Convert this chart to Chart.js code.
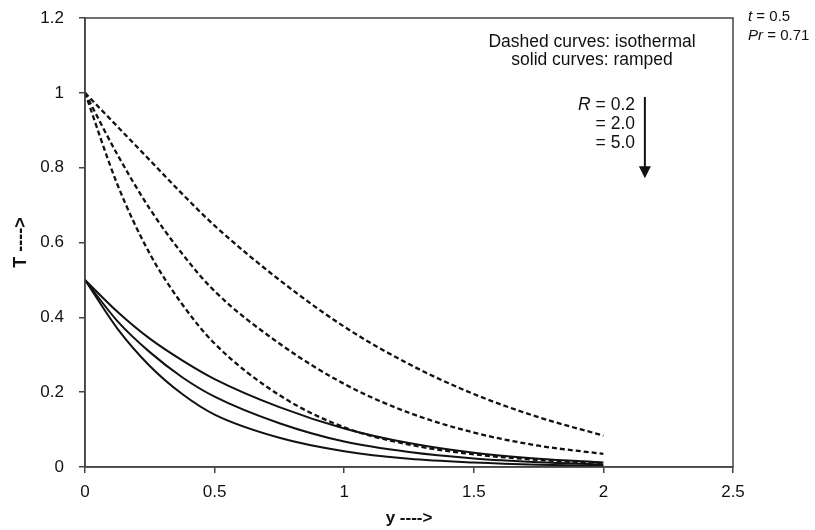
<!DOCTYPE html>
<html>
<head>
<meta charset="utf-8">
<script src="https://cdn.jsdelivr.net/npm/chart.js@4"></script>
<style>
  html, body { margin: 0; padding: 0; background: #fff; }
  #wrap { width: 815px; height: 530px; }
</style>
</head>
<body>
<div id="wrap"><canvas id="tempChart" width="815" height="530"></canvas></div>
<script>
'use strict';
// ─────────────────────────────────────────────
//  DATA
// ─────────────────────────────────────────────

const Y_POS = [0, 0.125, 0.25, 0.375, 0.5, 0.75, 1, 1.25, 1.5, 1.75, 2];

// isothermal plate (dashed), R = 0.2, 2.0, 5.0
const ISO_R02 = [1, 0.91, 0.82, 0.73, 0.645, 0.5, 0.375, 0.275, 0.195, 0.133, 0.084];
const ISO_R20 = [1, 0.835, 0.69, 0.57, 0.47, 0.33, 0.222, 0.145, 0.092, 0.057, 0.035];
const ISO_R50 = [1, 0.755, 0.57, 0.435, 0.33, 0.192, 0.106, 0.06, 0.034, 0.019, 0.011];

// ramped plate (solid), R = 0.2, 2.0, 5.0
const RAMP_R02 = [0.5, 0.415, 0.343, 0.285, 0.235, 0.16, 0.103, 0.064, 0.038, 0.022, 0.012];
const RAMP_R20 = [0.5, 0.39, 0.307, 0.24, 0.188, 0.117, 0.068, 0.04, 0.023, 0.013, 0.007];
const RAMP_R50 = [0.5, 0.37, 0.27, 0.195, 0.14, 0.078, 0.042, 0.022, 0.012, 0.006, 0.003];

const X_TICKS = [0, 0.5, 1, 1.5, 2, 2.5];
const Y_TICKS = [0, 0.2, 0.4, 0.6, 0.8, 1, 1.2];

const FONT = '"Liberation Sans", Arial, sans-serif';
const INK = '#111';
const TXT = 17.5;

function toPoints(values) {
  return values.map((v, i) => ({ x: Y_POS[i], y: v }));
}

function curve(values, dashed) {
  return {
    data: toPoints(values),
    borderColor: INK,
    backgroundColor: 'transparent',
    borderWidth: dashed ? 2.3 : 2,
    borderDash: dashed ? [5, 3] : [],
    pointRadius: 0,
    showLine: true,
    cubicInterpolationMode: 'monotone',
  };
}

// frame round the plot area + the text notes
const framePlugin = {
  id: 'frame',
  afterDraw(chart) {
    const { ctx, chartArea: a, scales: { x, y } } = chart;
    ctx.save();
    ctx.strokeStyle = '#444';
    ctx.lineWidth = 1.5;
    ctx.strokeRect(a.left, a.top, a.right - a.left, a.bottom - a.top);

    ctx.fillStyle = INK;
    ctx.textBaseline = 'middle';
    ctx.font = `${TXT}px ${FONT}`;
    ctx.textAlign = 'center';
    ctx.fillText('Dashed curves: isothermal', x.getPixelForValue(1.956), y.getPixelForValue(1.136));
    ctx.fillText('solid curves: ramped', x.getPixelForValue(1.956), y.getPixelForValue(1.088));

    // R labels, right aligned, "R" in italics
    const rx = x.getPixelForValue(2.122);
    ctx.textAlign = 'right';
    ctx.fillText(' = 0.2', rx, y.getPixelForValue(0.967));
    const w = ctx.measureText(' = 0.2').width;
    ctx.font = `italic ${TXT}px ${FONT}`;
    ctx.fillText('R', rx - w, y.getPixelForValue(0.967));
    ctx.font = `${TXT}px ${FONT}`;
    ctx.fillText('= 2.0', rx, y.getPixelForValue(0.917));
    ctx.fillText('= 5.0', rx, y.getPixelForValue(0.866));

    // arrow
    const ax = x.getPixelForValue(2.16);
    const ay0 = y.getPixelForValue(0.989);
    const ay1 = y.getPixelForValue(0.772);
    ctx.strokeStyle = INK;
    ctx.lineWidth = 2;
    ctx.beginPath();
    ctx.moveTo(ax, ay0);
    ctx.lineTo(ax, ay1 - 10);
    ctx.stroke();
    ctx.beginPath();
    ctx.moveTo(ax - 6, ay1 - 12);
    ctx.lineTo(ax + 6, ay1 - 12);
    ctx.lineTo(ax, ay1);
    ctx.closePath();
    ctx.fill();

    // t and Pr outside the frame
    const tx = x.getPixelForValue(2.558);
    ctx.textAlign = 'left';
    const note = (ital, rest, val) => {
      const py = y.getPixelForValue(val);
      ctx.font = `italic 15px ${FONT}`;
      ctx.fillText(ital, tx, py);
      const iw = ctx.measureText(ital).width;
      ctx.font = `15px ${FONT}`;
      ctx.fillText(rest, tx + iw, py);
    };
    note('t', ' = 0.5', 1.203);
    note('Pr', ' = 0.71', 1.152);
    ctx.restore();
  },
};

new Chart(document.getElementById('tempChart'), {
  type: 'scatter',
  data: {
    datasets: [
      curve(ISO_R02, true),
      curve(ISO_R20, true),
      curve(ISO_R50, true),
      curve(RAMP_R02, false),
      curve(RAMP_R20, false),
      curve(RAMP_R50, false),
    ],
  },
  options: {
    responsive: false,
    animation: false,
    layout: { padding: { top: 18, right: 82, bottom: 0, left: 0 } },
    plugins: {
      legend: { display: false },
      tooltip: { enabled: false },
    },
    scales: {
      x: {
        type: 'linear',
        min: 0,
        max: 2.5,
        afterBuildTicks: s => { s.ticks = X_TICKS.map(v => ({ value: v })); },
        afterFit: s => { s.height = 63; s.paddingLeft = 0; s.paddingRight = 0; },
        ticks: {
          color: INK,
          font: { family: FONT, size: 17 },
          padding: 9,
          callback: v => String(v),
        },
        grid: { drawOnChartArea: false, tickLength: 6, color: '#444', lineWidth: 1.5 },
        border: { color: '#444', width: 1.5 },
        title: {
          display: true,
          text: 'y ---->',
          color: INK,
          font: { family: FONT, size: 17, weight: 'bold' },
          padding: { top: 0, bottom: 1 },
        },
      },
      y: {
        type: 'linear',
        min: 0,
        max: 1.2,
        afterBuildTicks: s => { s.ticks = Y_TICKS.map(v => ({ value: v })); },
        afterFit: s => { s.width = 85; s.paddingTop = 0; s.paddingBottom = 0; },
        ticks: {
          color: INK,
          font: { family: FONT, size: 17 },
          padding: 15,
          callback: v => String(Math.round(v * 10) / 10),
        },
        grid: { drawOnChartArea: false, tickLength: 6, color: '#444', lineWidth: 1.5 },
        border: { color: '#444', width: 1.5 },
        title: {
          display: true,
          text: 'T ---->',
          color: INK,
          font: { family: FONT, size: 18, weight: 'bold' },
          padding: { top: 10, bottom: 0 },
        },
      },
    },
  },
  plugins: [framePlugin],
});
</script>
</body>
</html>
